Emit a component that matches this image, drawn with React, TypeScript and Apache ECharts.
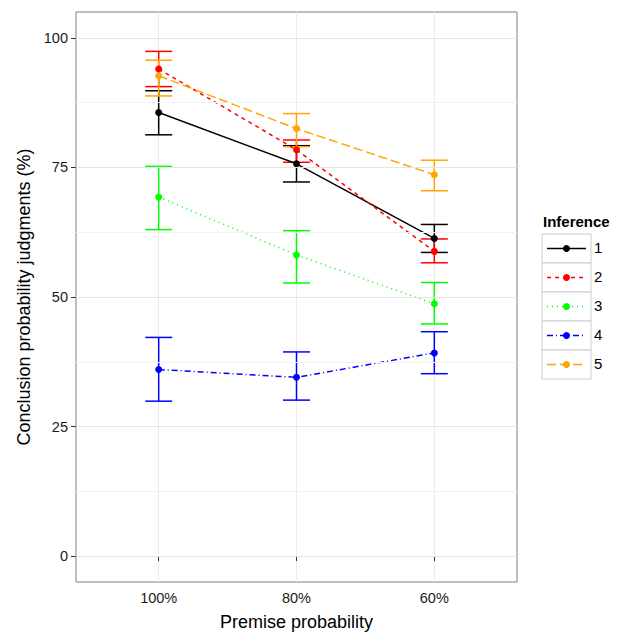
import React, { useEffect, useRef } from "react";
import * as echarts from "echarts";

const categories = ["100%", "80%", "60%"];
const seriesNames = ["1", "2", "3", "4", "5"];
const colors = ["#000000", "#ff0000", "#00ff00", "#0000ff", "#ffa500"];
const dashes: any[] = ["solid", [4, 4], [1, 4], [6, 3, 1, 3], [9, 4]];
const means = [
  [85.6, 75.7, 61.3],
  [94.0, 78.4, 58.8],
  [69.3, 58.1, 48.7],
  [36.0, 34.5, 39.2],
  [92.7, 82.5, 73.6],
];
const lows = [
  [81.3, 72.2, 58.6],
  [90.6, 76.0, 56.6],
  [63.0, 52.7, 44.8],
  [29.9, 30.1, 35.2],
  [88.8, 79.0, 70.5],
];
const highs = [
  [89.8, 79.2, 64.0],
  [97.4, 80.3, 61.2],
  [75.2, 62.8, 52.8],
  [42.2, 39.4, 43.3],
  [95.7, 85.4, 76.4],
];
const yTicks = [0, 25, 50, 75, 100];
const FONT = "Arial, 'Liberation Sans'";

export default function App() {
  const ref = useRef<HTMLDivElement>(null);
  useEffect(() => {
    const chart = echarts.init(ref.current!, null, { renderer: "svg" });
    const series: any[] = [];
    seriesNames.forEach((name, i) => {
      series.push({
        type: "custom",
        name: name + "_err",
        z: 3,
        data: categories.map((_, j) => [j + 1, lows[i][j], highs[i][j]]),
        renderItem: (params: any, api: any) => {
          const x = api.value(0);
          const lo = api.coord([x, api.value(1)]);
          const hi = api.coord([x, api.value(2)]);
          const w = 13.5;
          const st = { stroke: colors[i], lineWidth: 1.5 };
          return {
            type: "group",
            children: [
              { type: "line", shape: { x1: lo[0], y1: lo[1], x2: hi[0], y2: hi[1] }, style: st },
              { type: "line", shape: { x1: lo[0] - w, y1: lo[1], x2: lo[0] + w, y2: lo[1] }, style: st },
              { type: "line", shape: { x1: hi[0] - w, y1: hi[1], x2: hi[0] + w, y2: hi[1] }, style: st },
            ],
          };
        },
      });
      series.push({
        type: "line",
        name,
        z: 4,
        data: categories.map((_, j) => [j + 1, means[i][j]]),
        symbol: "circle",
        symbolSize: 7,
        itemStyle: { color: colors[i] },
        lineStyle: { color: colors[i], width: 1.5, type: dashes[i] },
      });
    });

    const graphic: any[] = [
      { type: "text", x: 543, y: 214, style: { text: "Inference", font: `bold 15px ${FONT}`, fill: "#000" } },
    ];
    seriesNames.forEach((name, i) => {
      const y = 234 + i * 29;
      const c = colors[i];
      graphic.push(
        { type: "rect", shape: { x: 542, y, width: 49, height: 29 }, style: { fill: "#fff", stroke: "#cccccc", lineWidth: 1 } },
        { type: "line", shape: { x1: 547, y1: y + 14.5, x2: 586, y2: y + 14.5 }, style: { stroke: c, lineWidth: 1.5, lineDash: dashes[i] === "solid" ? null : dashes[i] } },
        { type: "circle", shape: { cx: 566.5, cy: y + 14.5, r: 3.5 }, style: { fill: c } },
        { type: "text", x: 594, y: y + 6, style: { text: name, font: `15px ${FONT}`, fill: "#000" } }
      );
    });

    chart.setOption({
      animation: false,
      backgroundColor: "#fff",
      grid: { left: 76, right: 104, top: 12, bottom: 51, outerBoundsMode: "none", containLabel: false, show: true, borderColor: "#7f7f7f", borderWidth: 1, backgroundColor: "#fff" },
      xAxis: {
        type: "value",
        min: 0.4,
        max: 3.6,
        interval: 1,
        axisLine: { show: false },
        axisTick: { show: true, length: 5, lineStyle: { color: "#333" }, customValues: [1, 2, 3] },
        axisLabel: { customValues: [1, 2, 3], margin: 8, formatter: (v: number) => categories[Math.round(v) - 1] ?? "", color: "#1a1a1a", fontSize: 14.5, fontFamily: FONT },
        splitLine: { show: true, lineStyle: { color: "#ebebeb" } },
        name: "Premise probability",
        nameLocation: "middle",
        nameGap: 31,
        nameTextStyle: { fontSize: 18, color: "#000", fontFamily: FONT },
      },
      yAxis: {
        type: "value",
        min: -5,
        max: 105,
        axisLine: { show: false },
        axisTick: { show: true, length: 5, lineStyle: { color: "#333" }, customValues: yTicks },
        axisLabel: { customValues: yTicks, margin: 8, color: "#1a1a1a", fontSize: 14.5, fontFamily: FONT },
        splitLine: { show: false },
        name: "Conclusion probability judgments (%)",
        nameLocation: "middle",
        nameGap: 42,
        nameTextStyle: { fontSize: 18, color: "#000", fontFamily: FONT },
      },
      graphic,
      series: [
        {
          type: "line",
          data: [],
          markLine: {
            silent: true,
            symbol: "none",
            label: { show: false },
            lineStyle: { color: "#f2f2f2", type: "solid", width: 1 },
            data: [12.5, 37.5, 62.5, 87.5].map((v) => ({ yAxis: v })),
          },
        },
        {
          type: "line",
          data: [],
          markLine: {
            silent: true,
            symbol: "none",
            label: { show: false },
            lineStyle: { color: "#e5e5e5", type: "solid", width: 1 },
            data: yTicks.map((v) => ({ yAxis: v })),
          },
        },
        ...series,
      ],
    });
    return () => chart.dispose();
  }, []);
  return <div ref={ref} style={{ position: "absolute", left: 0, top: 0, width: 621, height: 633 }} />;
}
